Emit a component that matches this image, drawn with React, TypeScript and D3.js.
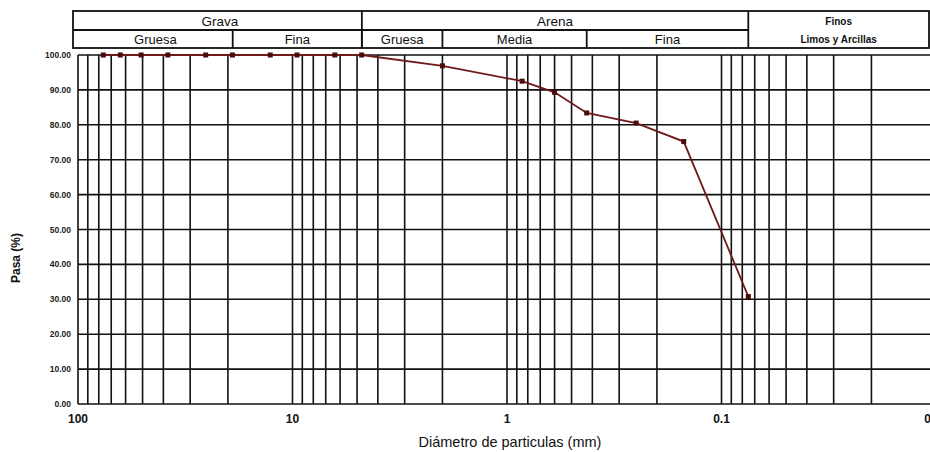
import React from 'react';
import * as d3 from 'd3';

// sieve openings (mm) and % passing
const sieveMm = [76.2, 63.5, 50.8, 38.1, 25.4, 19.05, 12.7, 9.525, 6.35, 4.76, 2.0, 0.85, 0.6, 0.425, 0.25, 0.15, 0.075];
const passing = [100, 100, 100, 100, 100, 100, 100, 100, 100, 100, 96.9, 92.5, 89.3, 83.4, 80.5, 75.2, 30.8];

const yTicks = [0, 10, 20, 30, 40, 50, 60, 70, 80, 90, 100];
const xTickLabels = [100, 10, 1, 0.1, 0.01];

// soil classification bands (mm limits)
const topBands = [
  { label: 'Grava', from: 100, to: 4.75 },
  { label: 'Arena', from: 4.75, to: 0.075 },
];
const subBands = [
  { label: 'Gruesa', from: 100, to: 19 },
  { label: 'Fina', from: 19, to: 4.75 },
  { label: 'Gruesa', from: 4.75, to: 2 },
  { label: 'Media', from: 2, to: 0.425 },
  { label: 'Fina', from: 0.425, to: 0.075 },
];
const finesLabel = ['Finos', 'Limos y Arcillas'];

const W = 930;
const H = 452;
const font = '"Liberation Sans", Arial, sans-serif';

const App: React.FC = () => {
  const x = d3.scaleLog().domain([100, 0.01]).range([78, 936]);
  const y = d3.scaleLinear().domain([0, 100]).range([404, 55]);

  // log grid: 1..9 x each decade
  const vLines: number[] = [];
  for (let e = -2; e < 2; e++) {
    for (let m = 1; m <= 9; m++) vLines.push(m * Math.pow(10, e));
  }
  vLines.push(100);

  const line = d3.line<number>()
    .x((_, i) => x(sieveMm[i]))
    .y(d => y(d));

  const hTop = 11, hMid = 30, hBot = 48, hLeft = 73, hRight = 929;
  const finesX = x(0.075);

  return (
    <svg width={W} height={H} style={{ position: 'absolute', left: 0, top: 0, background: '#fff' }} fontFamily={font}>
      {/* header table */}
      <g stroke="#111" strokeWidth={1.8} fill="none">
        <rect x={hLeft} y={hTop} width={hRight - hLeft} height={hBot - hTop} />
        <line x1={hLeft} x2={finesX} y1={hMid} y2={hMid} />
        {topBands.slice(1).map((b, i) => (
          <line key={i} x1={x(b.from)} x2={x(b.from)} y1={hTop} y2={hBot} />
        ))}
        <line x1={finesX} x2={finesX} y1={hTop} y2={hBot} />
        {subBands.slice(1).map((b, i) => (
          <line key={i} x1={x(b.from)} x2={x(b.from)} y1={hMid} y2={hBot} />
        ))}
      </g>
      <g fill="#111" textAnchor="middle">
        {topBands.map((b, i) => (
          <text key={i} x={(Math.max(x(b.from), hLeft) + x(b.to)) / 2} y={hMid - 4} fontSize={13.5}>{b.label}</text>
        ))}
        {subBands.map((b, i) => (
          <text key={i} x={(Math.max(x(b.from), hLeft) + x(b.to)) / 2} y={hBot - 4} fontSize={13}>{b.label}</text>
        ))}
        <text x={(finesX + hRight) / 2} y={25} fontSize={10} fontWeight="bold">{finesLabel[0]}</text>
        <text x={(finesX + hRight) / 2} y={43} fontSize={10} fontWeight="bold">{finesLabel[1]}</text>
      </g>

      {/* grid */}
      <g stroke="#111" strokeWidth={1.6}>
        {yTicks.map(t => (
          <line key={t} x1={x(100)} x2={W} y1={y(t)} y2={y(t)} />
        ))}
        {vLines.map((v, i) => (
          <line key={i} x1={x(v)} x2={x(v)} y1={y(0)} y2={y(100)} />
        ))}
      </g>

      {/* y tick labels */}
      <g fill="#222" fontSize={8.5} fontWeight="bold" textAnchor="end">
        {yTicks.map(t => (
          <text key={t} x={71} y={y(t) + 3}>{t.toFixed(2)}</text>
        ))}
      </g>
      {/* x tick labels */}
      <g fill="#111" fontSize={12} fontWeight="bold" textAnchor="middle">
        {xTickLabels.map(t => (
          <text key={t} x={x(t)} y={423}>{t}</text>
        ))}
      </g>

      <text x={510} y={447} fontSize={14.5} textAnchor="middle" fill="#111">Diámetro de particulas (mm)</text>
      <text transform={`translate(20,${258}) rotate(-90)`} fontSize={12} fontWeight="bold" textAnchor="middle" fill="#111">Pasa (%)</text>

      {/* curve */}
      <path d={line(passing) || ''} fill="none" stroke="#6e1a1a" strokeWidth={1.8} />
      <g fill="#4a0b0b">
        {passing.map((p, i) => (
          <rect key={i} x={x(sieveMm[i]) - 2.5} y={y(p) - 2.5} width={5} height={5} />
        ))}
      </g>
    </svg>
  );
};

export default App;
